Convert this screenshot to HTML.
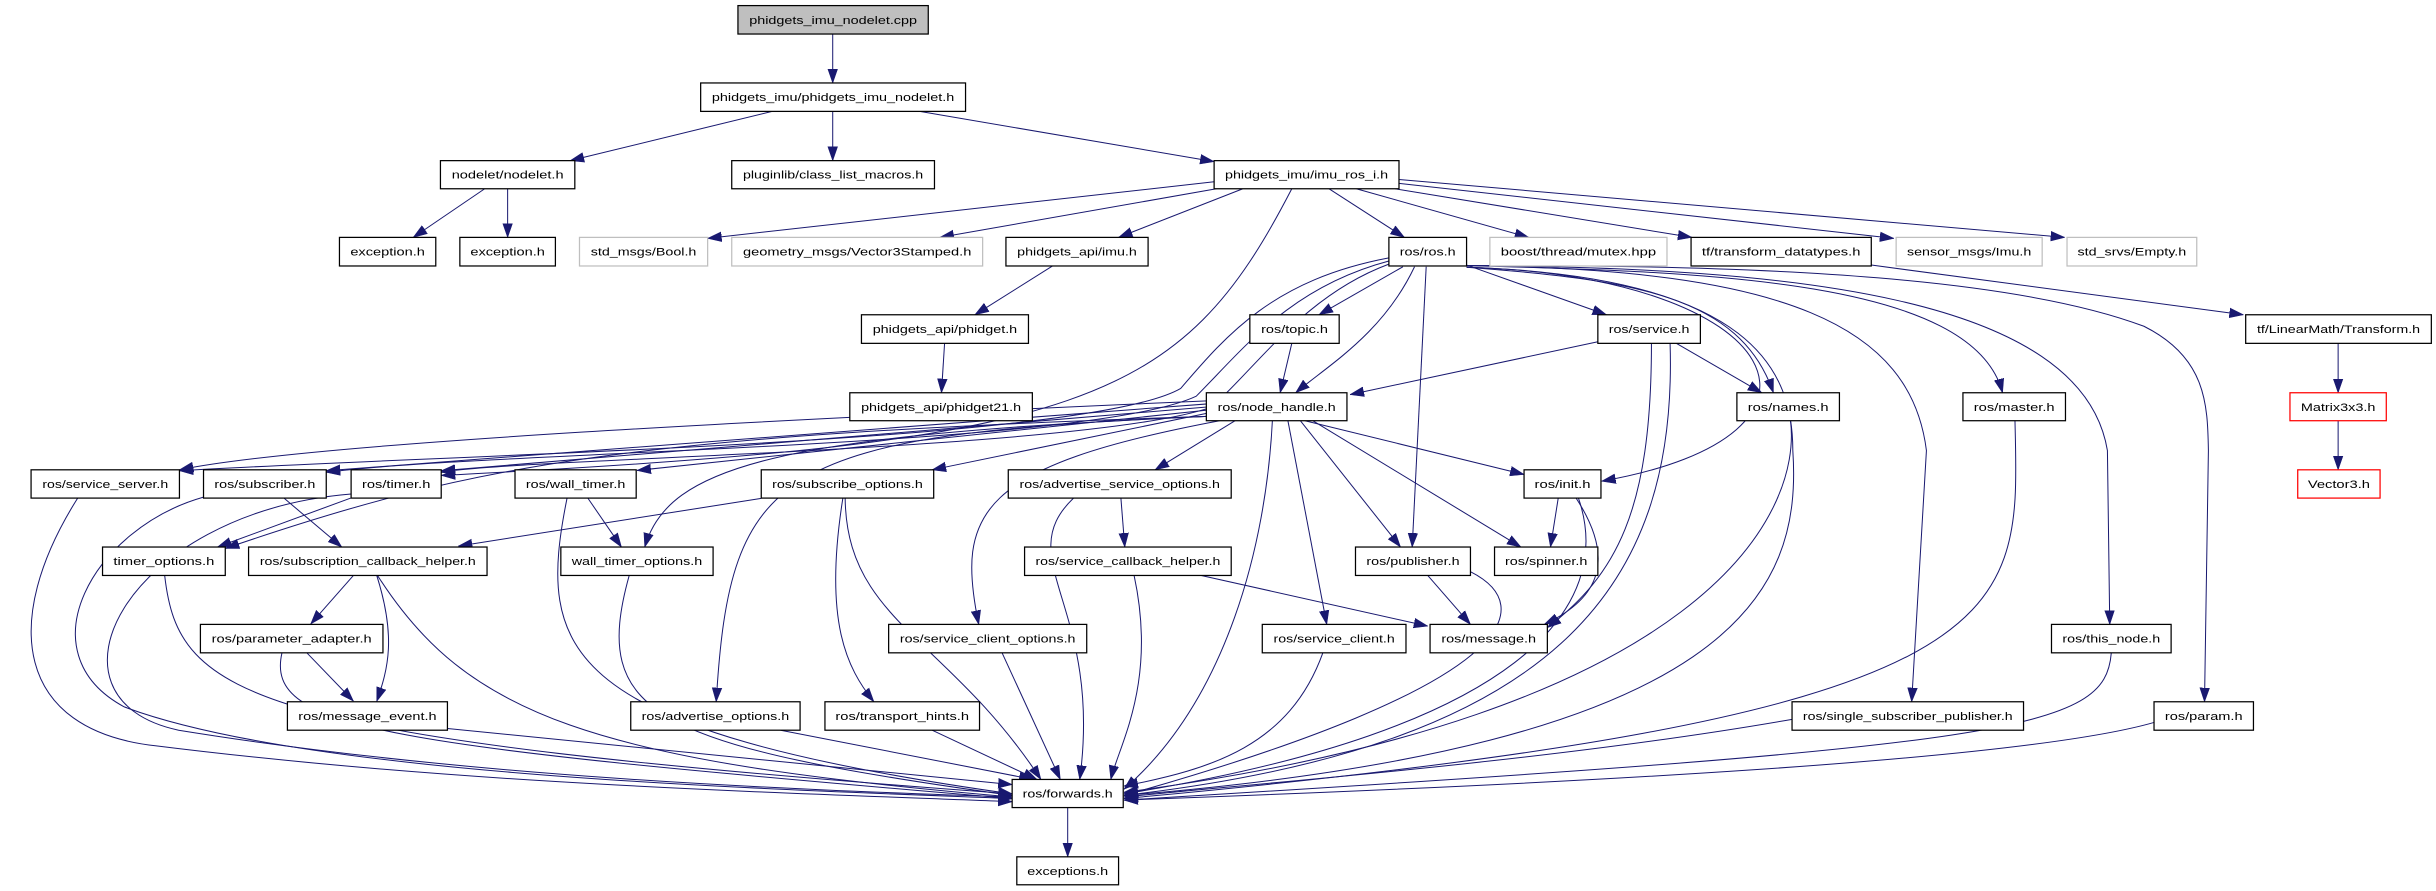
<!DOCTYPE html>
<html><head><meta charset="utf-8"><style>
html,body{margin:0;padding:0;background:#fff;}
svg{display:block}
text{font-family:"Liberation Sans",sans-serif;font-size:7.4px;fill:#000;}
.n{fill:#fff;stroke:#000;stroke-width:0.8}
.g{fill:#fff;stroke:#bfbfbf;stroke-width:0.8}
.r{fill:#fff;stroke:#ff0000;stroke-width:0.8}
.e{fill:none;stroke:#191970;stroke-width:0.65;marker-end:url(#a)}
</style></head><body>
<svg width="2436" height="891" viewBox="0 0 1568 573.5" preserveAspectRatio="none" xmlns="http://www.w3.org/2000/svg">
<defs><marker id="a" markerUnits="userSpaceOnUse" markerWidth="9" markerHeight="7" refX="7.5" refY="2.6" orient="auto" viewBox="0 0 7.5 5.2"><path d="M0,0 L7.5,2.6 L0,5.2 z" fill="#191970" stroke="#191970" stroke-width="0.3"/></marker></defs>

<g>
<path class="e" d="M536 21.9 V53.4"/>
<path class="e" d="M497 71.7 L367 103.4"/>
<path class="e" d="M536 71.7 V103.4"/>
<path class="e" d="M592 71.7 L781.5 104"/>
<path class="e" d="M312 121.5 L266 152.8"/>
<path class="e" d="M326.75 121.5 V152.8"/>
<path class="e" d="M781.5 117 L455.5 153.4"/>
<path class="e" d="M783 121.5 L605 152.8"/>
<path class="e" d="M800 121.5 L720 152.8"/>
<path class="e" d="M855.5 121.5 L904 152.8"/>
<path class="e" d="M873 121.5 L984 152.8"/>
<path class="e" d="M898 121.5 L1089 152.8"/>
<path class="e" d="M900.5 118 L1219 153.4"/>
<path class="e" d="M900.5 115.5 L1329 152.8"/>
<path class="e" d="M831.5 121.5 C760 260, 700 285, 284 306"/>
<path class="e" d="M677.5 171.2 L627.5 202.6"/>
<path class="e" d="M608 221 L606 252.8"/>
<path class="e" d="M1204.5 170.6 L1444 202.6"/>
<path class="e" d="M1505 221 V252.8"/>
<path class="e" d="M1505 270.8 V302.4"/>
<path class="e" d="M903 171.7 L849 202.6"/>
<path class="e" d="M910.5 171.7 C890 215, 855 235, 834 252.8"/>
<path class="e" d="M944 170.6 L1034 202.6"/>
<path class="e" d="M944 172 C1050 180, 1120 190, 1141.5 252.8"/>
<path class="e" d="M918 171.7 L909 352.1"/>
<path class="e" d="M944 172 C1150 178, 1200 280, 1031 309.7"/>
<path class="e" d="M944 171 C1100 175, 1270 180, 1289 252.8"/>
<path class="e" d="M944 171 C1150 172, 1340 190, 1356.5 290 L1358 401.9"/>
<path class="e" d="M944 171 C1150 170, 1300 180, 1380 210 C1420 230, 1421 260, 1421.5 290 L1419 451.7"/>
<path class="e" d="M944 171 C1150 173, 1230 210, 1240 290 L1230.5 451.7"/>
<path class="e" d="M944 172 C1130 178, 1154 240, 1154 290 C1160 380, 1120 480, 723.5 512"/>
<path class="e" d="M894 166 C820 180, 790 215, 760 250 C700 285, 300 292, 115.5 303"/>
<path class="e" d="M894 168 C830 185, 800 225, 770 255 C700 288, 320 290, 210 304"/>
<path class="e" d="M894 170 C840 190, 810 235, 780 262 C700 290, 330 295, 284 304"/>
<path class="e" d="M831.5 221 L824 252.8"/>
<path class="e" d="M1028.5 220 L869 254"/>
<path class="e" d="M1079 221 L1134 252.8"/>
<path class="e" d="M1063 221 C1063 330, 1040 370, 996 404"/>
<path class="e" d="M1075 221 C1080 380, 1000 480, 723.5 512"/>
<path class="e" d="M1152.5 270.8 C1160 330, 1100 460, 723.5 510"/>
<path class="e" d="M1297 271 C1300 400, 1310 460, 723.5 514"/>
<path class="e" d="M1359 420.2 C1355 470, 1300 480, 723.5 515"/>
<path class="e" d="M1386.5 465 C1300 490, 1000 505, 723.5 515"/>
<path class="e" d="M1153.5 463 C1000 490, 800 505, 723.5 513"/>
<path class="e" d="M1003 320.6 L998 352.1"/>
<path class="e" d="M1014.5 320.6 C1040 360, 1030 385, 994 401.9"/>
<path class="e" d="M1016 320.6 C1040 390, 980 470, 723.5 511"/>
<path class="e" d="M919 370.4 L946.5 401.9"/>
<path class="e" d="M946.5 368 C990 390, 980 440, 723.5 512"/>
<path class="e" d="M840 270.8 L981 305.4"/>
<path class="e" d="M845 270.8 L979 352.1"/>
<path class="e" d="M837 270.8 L901.5 352.1"/>
<path class="e" d="M829 270.8 L854 401.9"/>
<path class="e" d="M819 270.8 C815 350, 790 450, 723.5 508"/>
<path class="e" d="M795 270.8 L743.5 302.4"/>
<path class="e" d="M785 270.8 C630 300, 615 330, 630 401.9"/>
<path class="e" d="M777 268 C500 280, 470 300, 461 451.7"/>
<path class="e" d="M777 266 L600 302.4"/>
<path class="e" d="M777 264 L410 302.8"/>
<path class="e" d="M777 262 L284 303"/>
<path class="e" d="M777 260 L210 303"/>
<path class="e" d="M777 258 C500 270, 200 285, 115.5 302.4"/>
<path class="e" d="M777 268 C400 280, 300 300, 145 353"/>
<path class="e" d="M777 268 C500 280, 430 300, 415 352.1"/>
<path class="e" d="M183 320.8 L220 352.1"/>
<path class="e" d="M490 320.8 L295 351.5"/>
<path class="e" d="M50 320.6 C0 400, 10 470, 100 480 C300 505, 500 510, 651.5 516"/>
<path class="e" d="M131 320 C60 340, 15 420, 80 455 C200 500, 500 508, 651.5 514"/>
<path class="e" d="M226 318 C80 330, 20 450, 115 470 C300 500, 500 508, 651.5 513"/>
<path class="e" d="M226 320.5 L140 352.1"/>
<path class="e" d="M378.5 320.8 L400 352.1"/>
<path class="e" d="M365 320.6 C345 420, 360 470, 651.5 511"/>
<path class="e" d="M542.5 320.8 C530 400, 545 430, 562.5 451.7"/>
<path class="e" d="M544 320.6 C545 400, 610 410, 670 501.7"/>
<path class="e" d="M721.5 320.6 L724 352.1"/>
<path class="e" d="M691 320.6 C650 360, 710 390, 695 501.7"/>
<path class="e" d="M770 369.7 L919 403"/>
<path class="e" d="M730 370.4 C745 440, 720 480, 715 501.7"/>
<path class="e" d="M106 370.4 C115 450, 160 475, 651.5 511"/>
<path class="e" d="M227.5 370.4 L200 401.6"/>
<path class="e" d="M242.5 370.4 C255 410, 250 430, 242.5 451.4"/>
<path class="e" d="M243 370.4 C300 460, 380 490, 651.5 513"/>
<path class="e" d="M405 370.4 C380 460, 420 480, 651.5 512"/>
<path class="e" d="M197.5 420.2 L227.5 451.3"/>
<path class="e" d="M181.5 420.2 C170 470, 250 480, 651.5 514"/>
<path class="e" d="M288 468.9 L651.5 505"/>
<path class="e" d="M502.5 470 L665 501.7"/>
<path class="e" d="M600 470 L667.5 501.7"/>
<path class="e" d="M645 420.2 L682.5 501.7"/>
<path class="e" d="M851.5 420.2 C830 480, 780 495, 723.5 506"/>
<path class="e" d="M687.25 519.8 V551.5"/>
</g>

<g>
<rect x="475" y="3.6" width="122.5" height="18.3" fill="#bfbfbf" stroke="#000" stroke-width="0.8"/><text x="536.25" y="15.3" text-anchor="middle" textLength="108" lengthAdjust="spacingAndGlyphs">phidgets_imu_nodelet.cpp</text>
<rect class="n" x="451" y="53.4" width="170.5" height="18.3"/><text x="536.25" y="65.1" text-anchor="middle" textLength="156" lengthAdjust="spacingAndGlyphs">phidgets_imu/phidgets_imu_nodelet.h</text>
<rect class="n" x="283.5" y="103.4" width="86.5" height="18.1"/><text x="326.75" y="115" text-anchor="middle" textLength="72" lengthAdjust="spacingAndGlyphs">nodelet/nodelet.h</text>
<rect class="n" x="471" y="103.4" width="130.5" height="18.1"/><text x="536.25" y="115" text-anchor="middle" textLength="116" lengthAdjust="spacingAndGlyphs">pluginlib/class_list_macros.h</text>
<rect class="n" x="781.5" y="103.4" width="119" height="18.1"/><text x="841" y="115" text-anchor="middle" textLength="105" lengthAdjust="spacingAndGlyphs">phidgets_imu/imu_ros_i.h</text>

<rect class="n" x="218.5" y="152.8" width="62" height="18.4"/><text x="249.5" y="164.6" text-anchor="middle" textLength="48" lengthAdjust="spacingAndGlyphs">exception.h</text>
<rect class="n" x="296" y="152.8" width="61.5" height="18.4"/><text x="326.75" y="164.6" text-anchor="middle" textLength="48" lengthAdjust="spacingAndGlyphs">exception.h</text>
<rect class="g" x="373" y="152.8" width="82.5" height="18.4"/><text x="414.25" y="164.6" text-anchor="middle" textLength="68" lengthAdjust="spacingAndGlyphs">std_msgs/Bool.h</text>
<rect class="g" x="471" y="152.8" width="161.5" height="18.4"/><text x="551.75" y="164.6" text-anchor="middle" textLength="147" lengthAdjust="spacingAndGlyphs">geometry_msgs/Vector3Stamped.h</text>
<rect class="n" x="647.5" y="152.8" width="91.5" height="18.4"/><text x="693.25" y="164.6" text-anchor="middle" textLength="77" lengthAdjust="spacingAndGlyphs">phidgets_api/imu.h</text>
<rect class="n" x="894" y="152.8" width="50" height="18.4"/><text x="919" y="164.6" text-anchor="middle" textLength="36" lengthAdjust="spacingAndGlyphs">ros/ros.h</text>
<rect class="g" x="959" y="152.8" width="114" height="18.4"/><text x="1016" y="164.6" text-anchor="middle" textLength="100" lengthAdjust="spacingAndGlyphs">boost/thread/mutex.hpp</text>
<rect class="n" x="1088.5" y="152.8" width="116" height="18.4"/><text x="1146.5" y="164.6" text-anchor="middle" textLength="102" lengthAdjust="spacingAndGlyphs">tf/transform_datatypes.h</text>
<rect class="g" x="1220.5" y="152.8" width="94" height="18.4"/><text x="1267.5" y="164.6" text-anchor="middle" textLength="80" lengthAdjust="spacingAndGlyphs">sensor_msgs/Imu.h</text>
<rect class="g" x="1330.5" y="152.8" width="83.5" height="18.4"/><text x="1372.25" y="164.6" text-anchor="middle" textLength="70" lengthAdjust="spacingAndGlyphs">std_srvs/Empty.h</text>

<rect class="n" x="554.5" y="202.6" width="107.5" height="18.4"/><text x="608.25" y="214.4" text-anchor="middle" textLength="93" lengthAdjust="spacingAndGlyphs">phidgets_api/phidget.h</text>
<rect class="n" x="804.5" y="202.6" width="57.5" height="18.4"/><text x="833.25" y="214.4" text-anchor="middle" textLength="43" lengthAdjust="spacingAndGlyphs">ros/topic.h</text>
<rect class="n" x="1028.5" y="202.6" width="66" height="18.4"/><text x="1061.5" y="214.4" text-anchor="middle" textLength="52" lengthAdjust="spacingAndGlyphs">ros/service.h</text>
<rect class="n" x="1445.5" y="202.6" width="119.5" height="18.4"/><text x="1505.25" y="214.4" text-anchor="middle" textLength="105" lengthAdjust="spacingAndGlyphs">tf/LinearMath/Transform.h</text>

<rect class="n" x="547" y="252.8" width="117.5" height="18"/><text x="605.75" y="264.4" text-anchor="middle" textLength="103" lengthAdjust="spacingAndGlyphs">phidgets_api/phidget21.h</text>
<rect class="n" x="776.5" y="252.8" width="90.5" height="18"/><text x="821.75" y="264.4" text-anchor="middle" textLength="76" lengthAdjust="spacingAndGlyphs">ros/node_handle.h</text>
<rect class="n" x="1118" y="252.8" width="66" height="18"/><text x="1151" y="264.4" text-anchor="middle" textLength="52" lengthAdjust="spacingAndGlyphs">ros/names.h</text>
<rect class="n" x="1263.5" y="252.8" width="66" height="18"/><text x="1296.5" y="264.4" text-anchor="middle" textLength="52" lengthAdjust="spacingAndGlyphs">ros/master.h</text>
<rect class="r" x="1474" y="252.8" width="62" height="18"/><text x="1505" y="264.4" text-anchor="middle" textLength="48" lengthAdjust="spacingAndGlyphs">Matrix3x3.h</text>

<rect class="n" x="20" y="302.4" width="95.5" height="18.2"/><text x="67.75" y="314.1" text-anchor="middle" textLength="81" lengthAdjust="spacingAndGlyphs">ros/service_server.h</text>
<rect class="n" x="131" y="302.4" width="79" height="18.2"/><text x="170.5" y="314.1" text-anchor="middle" textLength="65" lengthAdjust="spacingAndGlyphs">ros/subscriber.h</text>
<rect class="n" x="226" y="302.4" width="58" height="18.2"/><text x="255" y="314.1" text-anchor="middle" textLength="44" lengthAdjust="spacingAndGlyphs">ros/timer.h</text>
<rect class="n" x="331.5" y="302.4" width="78" height="18.2"/><text x="370.5" y="314.1" text-anchor="middle" textLength="64" lengthAdjust="spacingAndGlyphs">ros/wall_timer.h</text>
<rect class="n" x="490" y="302.4" width="111" height="18.2"/><text x="545.5" y="314.1" text-anchor="middle" textLength="97" lengthAdjust="spacingAndGlyphs">ros/subscribe_options.h</text>
<rect class="n" x="649" y="302.4" width="143.5" height="18.2"/><text x="720.75" y="314.1" text-anchor="middle" textLength="129" lengthAdjust="spacingAndGlyphs">ros/advertise_service_options.h</text>
<rect class="n" x="981" y="302.4" width="49.5" height="18.2"/><text x="1005.75" y="314.1" text-anchor="middle" textLength="36" lengthAdjust="spacingAndGlyphs">ros/init.h</text>
<rect class="r" x="1479" y="302.4" width="53" height="18.2"/><text x="1505.5" y="314.1" text-anchor="middle" textLength="40" lengthAdjust="spacingAndGlyphs">Vector3.h</text>

<rect class="n" x="66" y="352.1" width="79" height="18.3"/><text x="105.5" y="363.8" text-anchor="middle" textLength="65" lengthAdjust="spacingAndGlyphs">timer_options.h</text>
<rect class="n" x="160" y="352.1" width="153.5" height="18.3"/><text x="236.75" y="363.8" text-anchor="middle" textLength="139" lengthAdjust="spacingAndGlyphs">ros/subscription_callback_helper.h</text>
<rect class="n" x="361" y="352.1" width="98" height="18.3"/><text x="410" y="363.8" text-anchor="middle" textLength="84" lengthAdjust="spacingAndGlyphs">wall_timer_options.h</text>
<rect class="n" x="659.5" y="352.1" width="133" height="18.3"/><text x="726" y="363.8" text-anchor="middle" textLength="119" lengthAdjust="spacingAndGlyphs">ros/service_callback_helper.h</text>
<rect class="n" x="872.5" y="352.1" width="74" height="18.3"/><text x="909.5" y="363.8" text-anchor="middle" textLength="60" lengthAdjust="spacingAndGlyphs">ros/publisher.h</text>
<rect class="n" x="962" y="352.1" width="66.5" height="18.3"/><text x="995.25" y="363.8" text-anchor="middle" textLength="53" lengthAdjust="spacingAndGlyphs">ros/spinner.h</text>

<rect class="n" x="129" y="401.9" width="117.5" height="18.3"/><text x="187.75" y="413.6" text-anchor="middle" textLength="103" lengthAdjust="spacingAndGlyphs">ros/parameter_adapter.h</text>
<rect class="n" x="572" y="401.9" width="127.5" height="18.3"/><text x="635.75" y="413.6" text-anchor="middle" textLength="113" lengthAdjust="spacingAndGlyphs">ros/service_client_options.h</text>
<rect class="n" x="812.5" y="401.9" width="92.5" height="18.3"/><text x="858.75" y="413.6" text-anchor="middle" textLength="78" lengthAdjust="spacingAndGlyphs">ros/service_client.h</text>
<rect class="n" x="920.5" y="401.9" width="75.5" height="18.3"/><text x="958.25" y="413.6" text-anchor="middle" textLength="61" lengthAdjust="spacingAndGlyphs">ros/message.h</text>
<rect class="n" x="1320.5" y="401.9" width="77" height="18.3"/><text x="1359" y="413.6" text-anchor="middle" textLength="63" lengthAdjust="spacingAndGlyphs">ros/this_node.h</text>

<rect class="n" x="185" y="451.7" width="103" height="18.3"/><text x="236.5" y="463.4" text-anchor="middle" textLength="89" lengthAdjust="spacingAndGlyphs">ros/message_event.h</text>
<rect class="n" x="406" y="451.7" width="109" height="18.3"/><text x="460.5" y="463.4" text-anchor="middle" textLength="95" lengthAdjust="spacingAndGlyphs">ros/advertise_options.h</text>
<rect class="n" x="531" y="451.7" width="99.5" height="18.3"/><text x="580.75" y="463.4" text-anchor="middle" textLength="86" lengthAdjust="spacingAndGlyphs">ros/transport_hints.h</text>
<rect class="n" x="1153.5" y="451.7" width="149" height="18.3"/><text x="1228" y="463.4" text-anchor="middle" textLength="135" lengthAdjust="spacingAndGlyphs">ros/single_subscriber_publisher.h</text>
<rect class="n" x="1386.5" y="451.7" width="64" height="18.3"/><text x="1418.5" y="463.4" text-anchor="middle" textLength="50" lengthAdjust="spacingAndGlyphs">ros/param.h</text>

<rect class="n" x="651.5" y="501.7" width="71.5" height="18.1"/><text x="687.25" y="513.3" text-anchor="middle" textLength="58" lengthAdjust="spacingAndGlyphs">ros/forwards.h</text>
<rect class="n" x="654.5" y="551.5" width="65.5" height="18"/><text x="687.25" y="563.1" text-anchor="middle" textLength="52" lengthAdjust="spacingAndGlyphs">exceptions.h</text>
</g>
</svg>
</body></html>
